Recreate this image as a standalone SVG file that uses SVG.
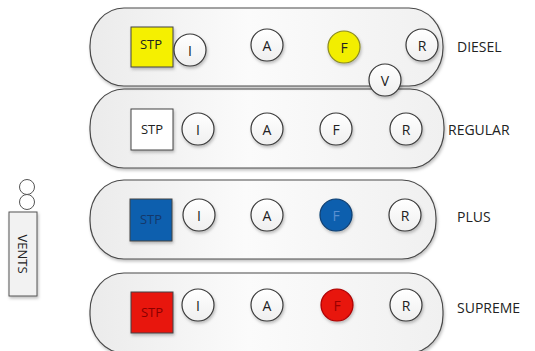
<svg xmlns="http://www.w3.org/2000/svg" width="535" height="351" viewBox="0 0 535 351">
<defs>
<linearGradient id="pillG" x1="0" y1="0" x2="1" y2="0">
<stop offset="0" stop-color="#ebebeb"/><stop offset="0.45" stop-color="#fbfbfb"/><stop offset="1" stop-color="#f0f0f0"/>
</linearGradient>
<linearGradient id="circG" x1="0" y1="0" x2="0" y2="1">
<stop offset="0" stop-color="#ffffff"/><stop offset="1" stop-color="#efefef"/>
</linearGradient>
<filter id="sh" x="-10%" y="-10%" width="130%" height="140%">
<feDropShadow dx="1" dy="2" stdDeviation="1.5" flood-color="#000" flood-opacity="0.25"/>
</filter>
</defs>
<style>
.pill{fill:url(#pillG);stroke:#4a4a4a;stroke-width:1.2;filter:url(#sh)}
.c{fill:url(#circG);stroke:#3a3a3a;stroke-width:1.2;filter:url(#sh)}
.box{stroke:#444;stroke-width:1;filter:url(#sh)}
text{font-family:"Open Sans","Noto Sans","Liberation Sans",sans-serif;font-size:14px;fill:#222;text-anchor:middle;dominant-baseline:central}
.lbl{text-anchor:start;font-size:14px}
.in{font-size:13px}
</style>
<rect width="535" height="351" fill="#fff"/>

<g id="row-supreme">
<rect class="pill" x="90" y="273" width="353" height="80" rx="34" ry="38"/>
<rect class="box" x="131" y="292" width="42" height="41" fill="#e8120f"/>
<text x="152" y="312" class="in" style="fill:#8a0000">STP</text>
<circle class="c" cx="198" cy="305" r="16"/><text x="198" y="305">I</text>
<circle class="c" cx="267" cy="305" r="16"/><text x="267" y="305">A</text>
<circle cx="337" cy="305" r="16" fill="#e8120f" stroke="#a00" stroke-width="1.2" filter="url(#sh)"/><text x="337" y="305" style="fill:#9a0000">F</text>
<circle class="c" cx="406" cy="305" r="16"/><text x="406" y="305">R</text>
<text class="lbl" x="457" y="307">SUPREME</text>
</g>

<g id="row-plus">
<rect class="pill" x="90" y="180" width="346" height="79" rx="34" ry="38"/>
<rect class="box" x="130" y="199" width="42" height="42" fill="#0a5fae"/>
<text x="151" y="219" class="in" style="fill:#14386a">STP</text>
<circle class="c" cx="199" cy="215" r="16"/><text x="199" y="215">I</text>
<circle class="c" cx="267" cy="215" r="16"/><text x="267" y="215">A</text>
<circle cx="336" cy="215" r="16" fill="#0a5fae" stroke="#0a3d70" stroke-width="1.2" filter="url(#sh)"/><text x="336" y="215" style="fill:#5a8fd0">F</text>
<circle class="c" cx="405" cy="215" r="16"/><text x="405" y="215">R</text>
<text class="lbl" x="457" y="216">PLUS</text>
</g>

<g id="row-regular">
<rect class="pill" x="90" y="89" width="354" height="79" rx="34" ry="38"/>
<rect class="box" x="131" y="109" width="42" height="41" fill="#ffffff"/>
<text x="152" y="129" class="in">STP</text>
<circle class="c" cx="198" cy="129" r="16"/><text x="198" y="129">I</text>
<circle class="c" cx="267" cy="129" r="16"/><text x="267" y="129">A</text>
<circle class="c" cx="336" cy="129" r="16"/><text x="336" y="129">F</text>
<circle class="c" cx="406" cy="129" r="16"/><text x="406" y="129">R</text>
<text class="lbl" x="448" y="129">REGULAR</text>
</g>

<g id="row-diesel">
<rect class="pill" x="90" y="8" width="353" height="78" rx="34" ry="38"/>
<rect class="box" x="131" y="27" width="42" height="40" fill="#f5f000"/>
<text x="151" y="44" class="in">STP</text>
<circle class="c" cx="190" cy="50" r="16"/><text x="190" y="50">I</text>
<circle class="c" cx="267" cy="45" r="16"/><text x="267" y="45">A</text>
<circle cx="344" cy="47" r="16" fill="#f2ee00" stroke="#8a8a20" stroke-width="1.2" filter="url(#sh)"/><text x="344" y="47">F</text>
<circle class="c" cx="422" cy="45" r="16"/><text x="422" y="45">R</text>
<text class="lbl" x="457" y="46">DIESEL</text>
</g>

<g id="valve-v">
<circle class="c" cx="385" cy="80" r="16"/><text x="385" y="80">V</text>
</g>

<g id="vents">
<circle cx="27" cy="187" r="7.5" fill="#fff" stroke="#555" stroke-width="1"/>
<circle cx="27" cy="202" r="7.5" fill="#fff" stroke="#555" stroke-width="1"/>
<rect x="9" y="212" width="28" height="84" fill="#f2f2f2" stroke="#555" stroke-width="1" filter="url(#sh)"/>
<text x="23" y="254" transform="rotate(90 23 254)" style="font-size:13px">VENTS</text>
</g>
<g id="connectors"/>
</svg>
